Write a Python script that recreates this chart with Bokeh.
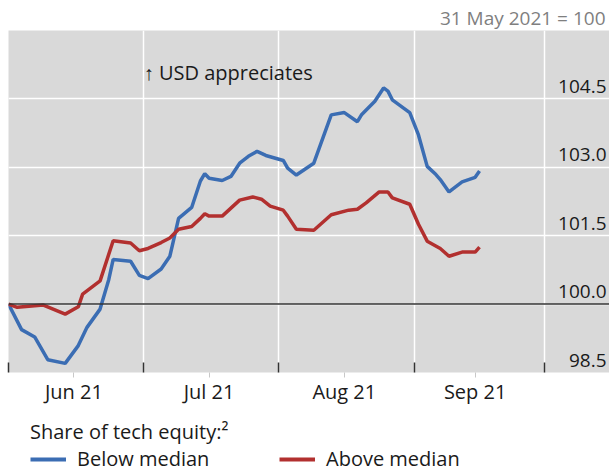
import pandas as pd
from bokeh.plotting import figure
from bokeh.layouts import column
from bokeh.models import FixedTicker, Span, Label, Legend, LegendItem, Range1d
from bokeh.core.properties import value
from bokeh.embed import file_html
from bokeh.resources import INLINE

# ---- data (31 May 2021 = 100) ----
below_dates = ["2021-05-31", "2021-06-03", "2021-06-06", "2021-06-09", "2021-06-13", "2021-06-16",
               "2021-06-18", "2021-06-21", "2021-06-23", "2021-06-24", "2021-06-28", "2021-06-30",
               "2021-07-02", "2021-07-05", "2021-07-07", "2021-07-09", "2021-07-12", "2021-07-14",
               "2021-07-15", "2021-07-16", "2021-07-19", "2021-07-21", "2021-07-23", "2021-07-25",
               "2021-07-27", "2021-07-29", "2021-08-02", "2021-08-03", "2021-08-05", "2021-08-09",
               "2021-08-13", "2021-08-16", "2021-08-19", "2021-08-20", "2021-08-23", "2021-08-25",
               "2021-08-26", "2021-08-27", "2021-08-31", "2021-09-02", "2021-09-04", "2021-09-06",
               "2021-09-07", "2021-09-09", "2021-09-12", "2021-09-15", "2021-09-16"]
below_values = [100.00, 99.44, 99.28, 98.78, 98.70, 99.09,
                99.49, 99.89, 100.54, 100.98, 100.94, 100.63,
                100.56, 100.77, 101.05, 101.88, 102.12, 102.70,
                102.86, 102.76, 102.71, 102.80, 103.09, 103.24,
                103.35, 103.26, 103.15, 102.98, 102.83, 103.09,
                104.15, 104.20, 104.00, 104.16, 104.45, 104.74,
                104.67, 104.48, 104.20, 103.71, 103.02, 102.84,
                102.73, 102.46, 102.68, 102.78, 102.92]

above_dates = ["2021-05-31", "2021-06-02", "2021-06-08", "2021-06-13", "2021-06-16", "2021-06-17",
               "2021-06-21", "2021-06-24", "2021-06-28", "2021-06-30", "2021-07-02", "2021-07-05",
               "2021-07-07", "2021-07-09", "2021-07-12", "2021-07-14", "2021-07-15", "2021-07-16",
               "2021-07-19", "2021-07-23", "2021-07-26", "2021-07-28", "2021-07-30", "2021-08-02",
               "2021-08-03", "2021-08-05", "2021-08-09", "2021-08-13", "2021-08-17", "2021-08-19",
               "2021-08-21", "2021-08-24", "2021-08-26", "2021-08-27", "2021-08-31", "2021-09-02",
               "2021-09-04", "2021-09-07", "2021-09-09", "2021-09-12", "2021-09-15", "2021-09-16"]
above_values = [100.00, 99.93, 99.98, 99.78, 99.94, 100.22,
                100.51, 101.39, 101.34, 101.17, 101.22, 101.35,
                101.45, 101.64, 101.70, 101.88, 101.98, 101.93,
                101.93, 102.28, 102.35, 102.30, 102.15, 102.06,
                101.93, 101.64, 101.62, 101.96, 102.06, 102.08,
                102.22, 102.46, 102.46, 102.33, 102.19, 101.75,
                101.38, 101.22, 101.05, 101.14, 101.14, 101.25]

month_labels = ["Jun 21", "Jul 21", "Aug 21", "Sep 21"]
month_label_dates = ["2021-06-15", "2021-07-16", "2021-08-16", "2021-09-15"]
month_bounds = ["2021-05-31", "2021-07-01", "2021-08-01", "2021-09-01", "2021-10-01"]
y_ticks = [98.5, 100.0, 101.5, 103.0, 104.5]

series_names = ["Below median", "Above median"]
legend_title = "Share of tech equity:\u00b2"
unit_note = "31 May 2021 = 100"
annotation_text = "\u2191 USD appreciates"


def ms(d):
    return pd.Timestamp(d).value / 1e6


DAY = 86400000.0
FONT = "Open Sans"
BLUE = "#3b6db3"
RED = "#b2302f"
TXT = "#1a1a1a"

x_start = ms("2021-05-31")
x_end = x_start + 137.8 * DAY

# ---------------- main chart ----------------
p = figure(frame_width=601, frame_height=342, x_axis_type="datetime",
           output_backend="svg", toolbar_location=None,
           x_range=Range1d(x_start, x_end), y_range=Range1d(98.5, 106.0),
           min_border_left=8, min_border_right=0, min_border_top=30, min_border_bottom=40)
p.yaxis.visible = False

p.background_fill_color = "#d9d9d9"
p.border_fill_color = "white"
p.outline_line_color = None

p.title.text = unit_note
p.title.align = "right"
p.title.text_font = FONT
p.title.text_font_size = "19px"
p.title.text_font_style = "normal"
p.title.text_color = "#7f7f7f"
p.title.standoff = 0
p.title.offset = 4

p.xgrid.ticker = FixedTicker(ticks=[ms(d) for d in month_bounds])
p.xgrid.grid_line_color = "white"
p.xgrid.grid_line_width = 1.5
p.ygrid.ticker = FixedTicker(ticks=y_ticks)
p.ygrid.grid_line_color = "white"
p.ygrid.grid_line_width = 1.5

ax = p.xaxis[0]
ax.ticker = FixedTicker(ticks=[ms(d) for d in month_label_dates],
                        minor_ticks=[ms(d) for d in month_bounds])
ax.major_label_overrides = {ms(d): lab for d, lab in zip(month_label_dates, month_labels)}
ax.axis_line_color = None
ax.major_tick_line_color = "#c8c8c8"
ax.major_tick_in = 0
ax.major_tick_out = 5
ax.minor_tick_line_color = "#333333"
ax.minor_tick_line_width = 1.5
ax.minor_tick_in = 10
ax.minor_tick_out = 0
ax.major_label_text_font = FONT
ax.major_label_text_font_size = "20px"
ax.major_label_text_color = TXT
ax.major_label_standoff = 0

p.add_layout(Span(location=100.0, dimension="width", line_color="#333333", line_width=1.5))

p.line([pd.Timestamp(d) for d in below_dates], below_values, line_color=BLUE, line_width=3.5)
p.line([pd.Timestamp(d) for d in above_dates], above_values, line_color=RED, line_width=3.5)

p.text(x=[x_end] * len(y_ticks), y=y_ticks, text=[f"{v:.1f}" for v in y_ticks],
       text_align="right", text_baseline="bottom", x_offset=-3, y_offset=-6,
       text_font=value(FONT), text_font_size="19px", text_color=TXT)

p.add_layout(Label(x=ms("2021-07-01"), y=105.08, x_offset=0, text=annotation_text,
                   text_align="left", text_baseline="middle", text_font=FONT,
                   text_font_size="20px", text_color=TXT))

# ---------------- legend strip ----------------
# Same series drawn again, but entirely outside this strip's visible range, so
# only their legend swatches show.
lg = figure(width=609, height=62, output_backend="svg", toolbar_location=None,
            x_axis_location=None, y_axis_location=None,
            x_range=Range1d(0, 1), y_range=Range1d(0, 1),
            min_border_left=0, min_border_right=0, min_border_top=0, min_border_bottom=0)
lg.outline_line_color = None
lg.grid.visible = False
lg.background_fill_color = "white"
lg.border_fill_color = "white"
k_below = lg.line(x=[ms(d) for d in below_dates], y=below_values, line_color=BLUE, line_width=4)
k_above = lg.line(x=[ms(d) for d in above_dates], y=above_values, line_color=RED, line_width=4)

legend = Legend(items=[LegendItem(label=series_names[0], renderers=[k_below]),
                       LegendItem(label=series_names[1], renderers=[k_above])],
                orientation="horizontal", location=(22, 2), title=legend_title)
legend.title_text_font = FONT
legend.title_text_font_size = "20px"
legend.title_text_font_style = "normal"
legend.title_text_color = TXT
legend.title_standoff = 0
legend.label_text_font = FONT
legend.label_text_font_size = "20px"
legend.label_text_color = TXT
legend.glyph_width = 36
legend.glyph_height = 20
legend.label_standoff = 11
legend.label_width = 190
legend.spacing = 12
legend.padding = 0
legend.margin = 0
legend.border_line_color = None
legend.background_fill_alpha = 0
lg.add_layout(legend, "center")

layout = column(p, lg, spacing=0)

open("out.html", "w").write(file_html(layout, INLINE))
